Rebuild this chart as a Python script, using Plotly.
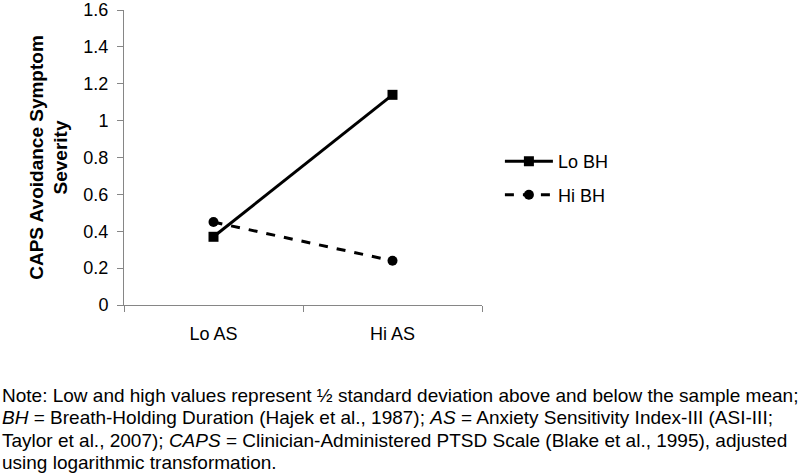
import plotly.graph_objects as go

# data
as_levels = ["Lo AS", "Hi AS"]
lo_bh = [0.37, 1.14]
hi_bh = [0.45, 0.24]
y_ticks = [0, 0.2, 0.4, 0.6, 0.8, 1.0, 1.2, 1.4, 1.6]

note_lines = [
    "Note: Low and high values represent ½ standard deviation above and below the sample mean;",
    "<i>BH</i> = Breath-Holding Duration (Hajek et al., 1987); <i>AS</i> = Anxiety Sensitivity Index-III (ASI-III;",
    "Taylor et al., 2007); <i>CAPS</i> = Clinician-Administered PTSD Scale (Blake et al., 1995), adjusted",
    "using logarithmic transformation.",
]

font = "Liberation Sans, Arial, sans-serif"
axis_grey = "#868686"

fig = go.Figure()
fig.add_trace(go.Scatter(
    x=as_levels, y=lo_bh, name="Lo BH", mode="lines+markers", legendgroup="lo",
    line=dict(color="black", width=3),
    marker=dict(symbol="square", size=10, color="black"),
))
fig.add_trace(go.Scatter(
    x=as_levels, y=hi_bh, name="Hi BH", mode="lines+markers", legendgroup="hi",
    line=dict(color="black", width=3, dash="dash"),
    marker=dict(symbol="circle", size=10, color="black"),
))

fig.update_yaxes(
    range=[0, 1.6001], tickvals=y_ticks, showgrid=False, zeroline=False,
    showline=True, linecolor=axis_grey, linewidth=1, automargin=False,
    ticks="outside", ticklen=6, tickcolor=axis_grey,
    ticklabeloverflow="allow", ticklabelstandoff=5,
    tickfont=dict(size=18, color="black", family=font),
    title=dict(text="<b>CAPS Avoidance Symptom<br>Severity</b>",
               font=dict(size=19, color="black", family=font), standoff=10),
)
fig.update_xaxes(
    type="category", range=[-0.5, 1.5], showgrid=False,
    showline=True, linecolor=axis_grey, linewidth=1, automargin=False,
    ticks="outside", tickson="boundaries", ticklen=6, tickcolor=axis_grey,
    ticklabelstandoff=12,
    tickfont=dict(size=18, color="black", family=font),
)

# note below the chart, one annotation per line
plot_top, plot_h = 10, 295
for i, line in enumerate(note_lines):
    py = 395 + 22.5 * i
    fig.add_annotation(
        text=line, xref="paper", yref="paper",
        x=-124 / 358, y=(plot_top + plot_h - py) / plot_h,
        xanchor="left", yanchor="middle", align="left", showarrow=False,
        font=dict(size=19, color="black", family=font),
    )

fig.update_layout(
    width=800, height=473,
    margin=dict(l=124, r=318, t=plot_top, b=473 - plot_top - plot_h, autoexpand=False),
    plot_bgcolor="white", paper_bgcolor="white",
    legend=dict(x=1.05, y=0.43, xanchor="left", yanchor="middle",
                traceorder="grouped", tracegroupgap=7, itemwidth=48,
                font=dict(size=18, color="black", family=font)),
)

fig.write_html("out.html", config={"displayModeBar": False},
               post_script="document.body.style.margin='0';")
